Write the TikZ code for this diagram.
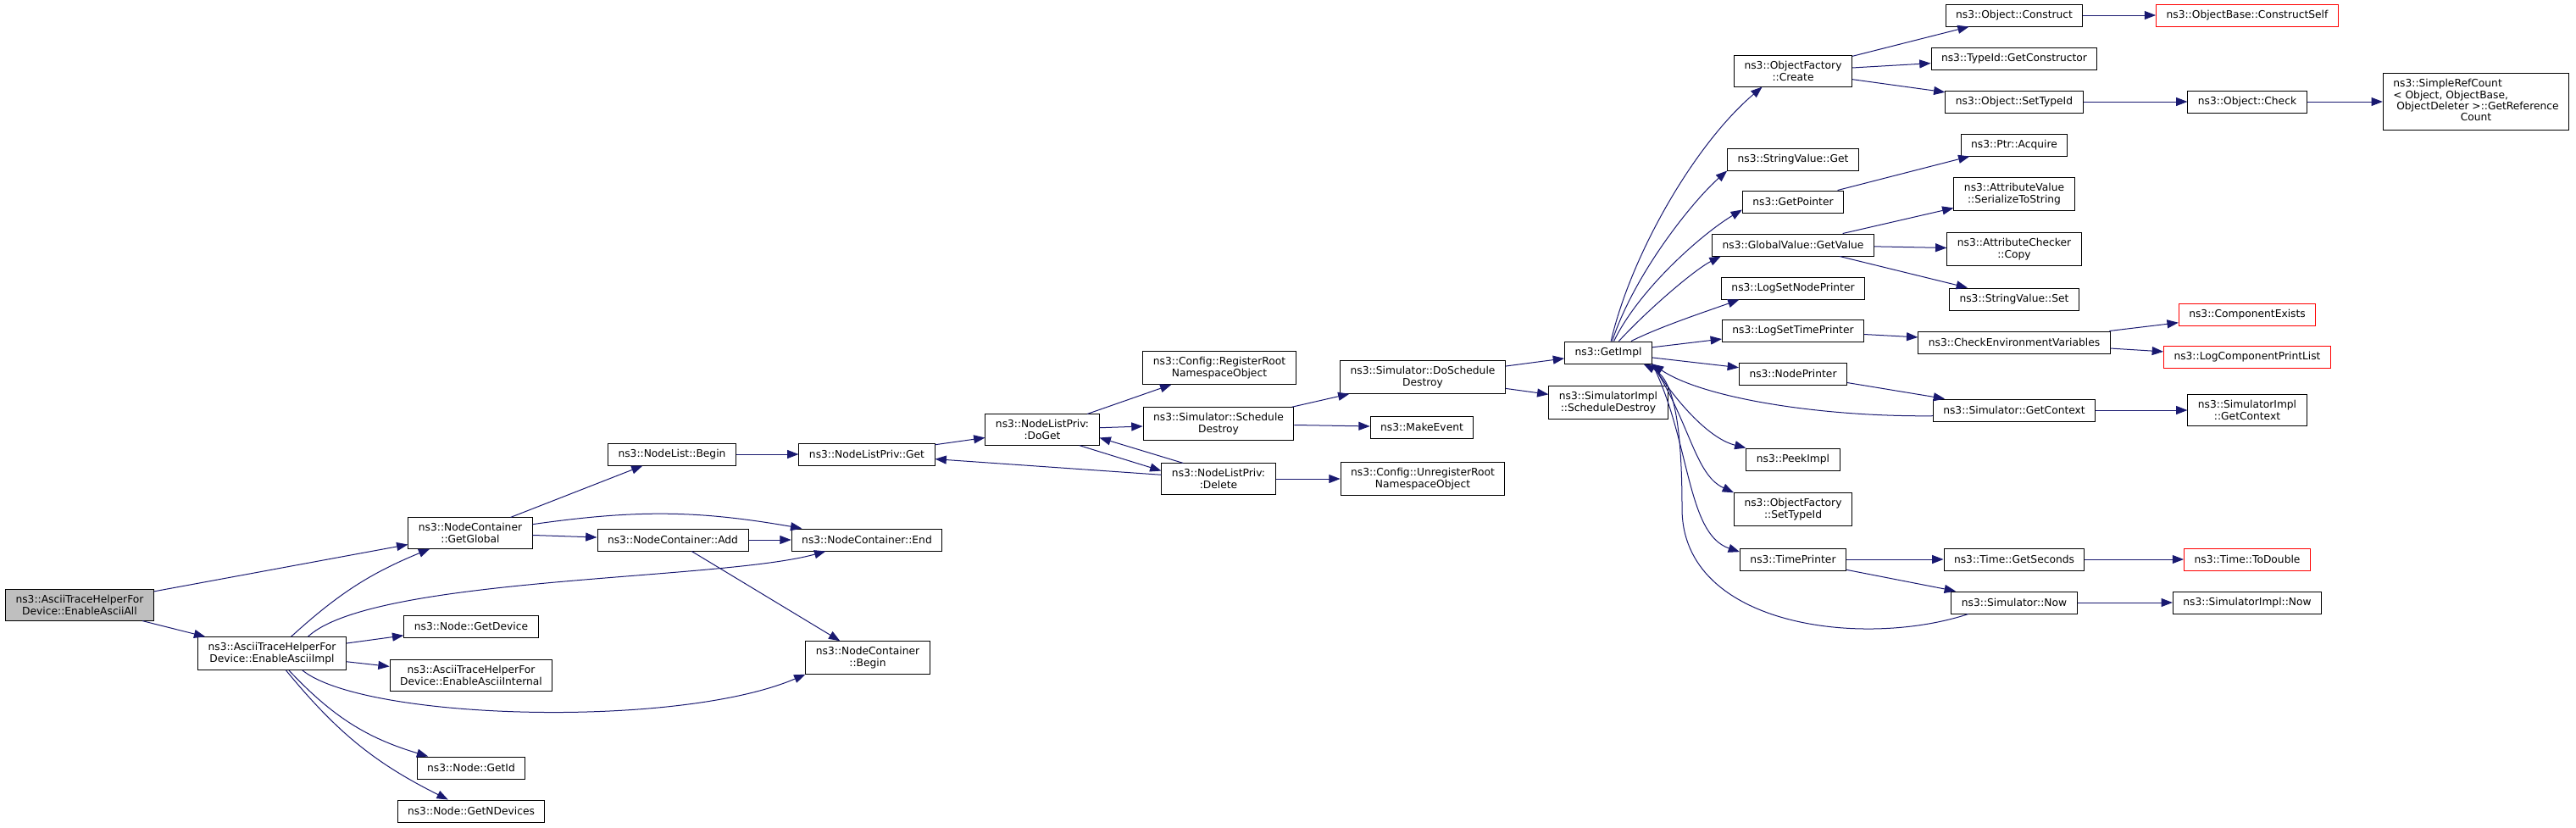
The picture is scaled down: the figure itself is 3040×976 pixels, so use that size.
\documentclass[tikz,border=0pt]{standalone}
\usepackage{fontspec}
\setmainfont{DejaVu Sans}
\usepackage{tikz}
\usetikzlibrary{arrows.meta}
\definecolor{midnight}{HTML}{191970}
\definecolor{rootgray}{HTML}{BFBFBF}
\tikzset{
  fn/.style={draw=black,line width=0.75pt,fill=white,align=center,inner xsep=9pt,inner ysep=5pt,minimum height=19.5pt,font=\fontsize{9.2pt}{10pt}\selectfont},
  fnred/.style={fn,draw=red},
  fnroot/.style={fn,fill=rootgray},
  call/.style={midnight,line width=0.75pt,-{Triangle[length=10pt,width=7.5pt]}}
}
\begin{document}
\begin{tikzpicture}[x=0.75pt,y=-0.75pt]
\useasboundingbox (0,0) rectangle (3040,976);
\node[fnroot] (all) at (94,714) {ns3::AsciiTraceHelperFor\\Device::EnableAsciiAll};
\node[fn] (impl) at (321,771) {ns3::AsciiTraceHelperFor\\Device::EnableAsciiImpl};
\node[fn] (gg) at (555,629) {ns3::NodeContainer\\::GetGlobal};
\node[fn] (getdev) at (556,739) {ns3::Node::GetDevice};
\node[fn] (internal) at (556,797) {ns3::AsciiTraceHelperFor\\Device::EnableAsciiInternal};
\node[fn] (getid) at (556,906) {ns3::Node::GetId};
\node[fn] (getnd) at (556,957) {ns3::Node::GetNDevices};
\node[fn] (add) at (794,637) {ns3::NodeContainer::Add};
\node[fn] (ncend) at (1023,637) {ns3::NodeContainer::End};
\node[fn] (ncbegin) at (1024,776) {ns3::NodeContainer\\::Begin};
\node[fn] (nlbegin) at (793,536) {ns3::NodeList::Begin};
\node[fn] (nlget) at (1023,536) {ns3::NodeListPriv::Get};
\node[fn] (doget) at (1230,507) {ns3::NodeListPriv:\\:DoGet};
\node[fn] (regroot) at (1439,434) {ns3::Config::RegisterRoot\\NamespaceObject};
\node[fn] (schdes) at (1438,500) {ns3::Simulator::Schedule\\Destroy};
\node[fn] (delete) at (1438,565) {ns3::NodeListPriv:\\:Delete};
\node[fn] (doschdes) at (1679,445) {ns3::Simulator::DoSchedule\\Destroy};
\node[fn] (mkevent) at (1678,504) {ns3::MakeEvent};
\node[fn] (unreg) at (1679,565) {ns3::Config::UnregisterRoot\\NamespaceObject};
\node[fn] (getimpl) at (1898,416) {ns3::GetImpl};
\node[fn] (implschdes) at (1898,475) {ns3::SimulatorImpl\\::ScheduleDestroy};
\node[fn] (create) at (2116,84) {ns3::ObjectFactory\\::Create};
\node[fn] (svget) at (2116,188) {ns3::StringValue::Get};
\node[fn] (getptr) at (2116,238) {ns3::GetPointer};
\node[fn] (getval) at (2116,289) {ns3::GlobalValue::GetValue};
\node[fn] (lognode) at (2116,340) {ns3::LogSetNodePrinter};
\node[fn] (logtime) at (2116,390) {ns3::LogSetTimePrinter};
\node[fn] (nodepr) at (2116,441) {ns3::NodePrinter};
\node[fn] (peek) at (2116,542) {ns3::PeekImpl};
\node[fn] (ofsettid) at (2116,601) {ns3::ObjectFactory\\::SetTypeId};
\node[fn] (timepr) at (2116,660) {ns3::TimePrinter};
\node[fn] (construct) at (2377,18) {ns3::Object::Construct};
\node[fn] (getctor) at (2377,69) {ns3::TypeId::GetConstructor};
\node[fn] (objsettid) at (2377,120) {ns3::Object::SetTypeId};
\node[fn] (acquire) at (2377,171) {ns3::Ptr::Acquire};
\node[fn] (serial) at (2377,229) {ns3::AttributeValue\\::SerializeToString};
\node[fn] (copy) at (2377,294) {ns3::AttributeChecker\\::Copy};
\node[fn] (svset) at (2377,353) {ns3::StringValue::Set};
\node[fn] (checkenv) at (2377,404) {ns3::CheckEnvironmentVariables};
\node[fn] (simctx) at (2377,484) {ns3::Simulator::GetContext};
\node[fn] (getsec) at (2377,660) {ns3::Time::GetSeconds};
\node[fn] (simnow) at (2377,711) {ns3::Simulator::Now};
\node[fnred] (cself) at (2652,18) {ns3::ObjectBase::ConstructSelf};
\node[fn] (check) at (2652,120) {ns3::Object::Check};
\node[fnred] (compex) at (2652,371) {ns3::ComponentExists};
\node[fnred] (logcpl) at (2652,421) {ns3::LogComponentPrintList};
\node[fn] (implctx) at (2652,484) {ns3::SimulatorImpl\\::GetContext};
\node[fnred] (todouble) at (2652,660) {ns3::Time::ToDouble};
\node[fn] (implnow) at (2652,711) {ns3::SimulatorImpl::Now};
\node[fn] (refcount) at (2922,120) {\begin{tabular}{@{}l@{}}ns3::SimpleRefCount\\< Object, ObjectBase,\\\ ObjectDeleter >::GetReference\\\multicolumn{1}{@{}c@{}}{Count}\end{tabular}};
\draw[call] (all) -- (gg);
\draw[call] (all) -- (impl);
\draw[call] (impl) to[bend left=10] (gg);
\draw[call] (impl.25) .. controls (440,680) and (850,685) .. (ncend);
\draw[call] (impl) -- (getdev);
\draw[call] (impl) -- (internal);
\draw[call] (impl.-29) .. controls (430,850) and (800,860) .. (ncbegin.south west);
\draw[call] (impl) to[bend right=15] (getid);
\draw[call] (impl) to[bend right=12] (getnd);
\draw[call] (gg) -- (nlbegin);
\draw[call] (gg) to[bend left=9] (ncend);
\draw[call] (gg) -- (add);
\draw[call] (add) -- (ncend);
\draw[call] (add) -- (ncbegin);
\draw[call] (nlbegin) -- (nlget);
\draw[call] (nlget) -- (doget);
\draw[call] (doget) -- (regroot);
\draw[call] (doget) -- (schdes);
\draw[call] (doget.-23) -- (delete.172);
\draw[call] (delete.156) -- (doget.-8);
\draw[call] (delete.176) -- (nlget.-4);
\draw[call] (delete) -- (unreg);
\draw[call] (schdes) -- (doschdes);
\draw[call] (schdes) -- (mkevent);
\draw[call] (doschdes) -- (getimpl);
\draw[call] (doschdes) -- (implschdes);
\draw[call] (getimpl) .. controls (1925,300) and (2000,170) .. (create.-153);
\draw[call] (getimpl) .. controls (1930,320) and (2000,235) .. (svget.south west);
\draw[call] (getimpl) .. controls (1935,340) and (2010,275) .. (getptr.-171);
\draw[call] (getimpl) .. controls (1945,365) and (2000,318) .. (getval.-171);
\draw[call] (getimpl) .. controls (1960,385) and (2015,367) .. (lognode.-168);
\draw[call] (getimpl) -- (logtime);
\draw[call] (getimpl) -- (nodepr);
\draw[call] (getimpl.south east) .. controls (1975,470) and (2015,517) .. (peek.north west);
\draw[call] (getimpl.south east) .. controls (1995,500) and (2000,560) .. (ofsettid.north west);
\draw[call] (getimpl.south east) .. controls (1995,520) and (1990,630) .. (timepr.172);
\draw[call] (simctx.-176) .. controls (2150,492) and (2010,470) .. (getimpl.south east);
\draw[call] (simnow.-166) .. controls (2200,765) and (1985,740) .. (1985,600) .. controls (1985,480) and (1970,445) .. (getimpl.-18);
\draw[call] (create) -- (construct);
\draw[call] (create) -- (getctor);
\draw[call] (create) -- (objsettid);
\draw[call] (construct) -- (cself);
\draw[call] (objsettid) -- (check);
\draw[call] (check) -- (refcount);
\draw[call] (getptr) -- (acquire);
\draw[call] (getval) -- (serial);
\draw[call] (getval) -- (copy);
\draw[call] (getval) -- (svset);
\draw[call] (logtime) -- (checkenv);
\draw[call] (checkenv) -- (compex);
\draw[call] (checkenv) -- (logcpl);
\draw[call] (nodepr) -- (simctx);
\draw[call] (simctx) -- (implctx);
\draw[call] (timepr) -- (getsec);
\draw[call] (timepr) -- (simnow);
\draw[call] (getsec) -- (todouble);
\draw[call] (simnow) -- (implnow);
\end{tikzpicture}
\end{document}
